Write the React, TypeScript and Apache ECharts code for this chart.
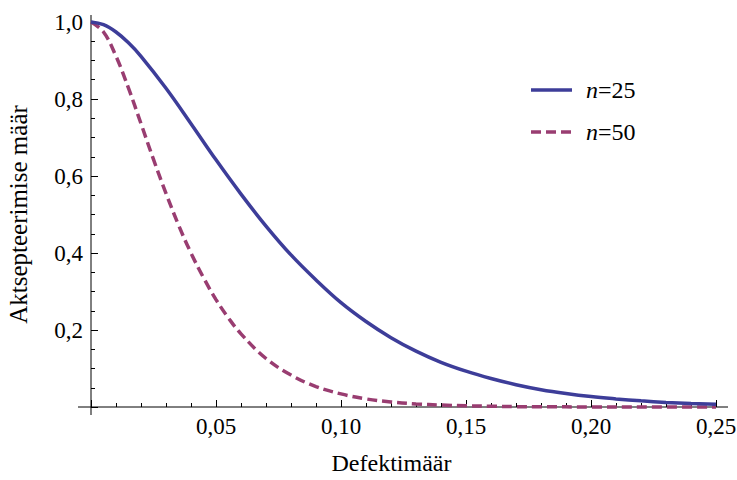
import React, { useEffect, useRef } from "react";
import * as echarts from "echarts";

const seriesNames = ["n=25", "n=50"];

const defect25 = [0, 0.005, 0.01, 0.015, 0.02, 0.03, 0.04, 0.05, 0.06, 0.07, 0.08, 0.09, 0.10, 0.11, 0.12, 0.13, 0.14, 0.15, 0.16, 0.17, 0.18, 0.19, 0.20, 0.21, 0.22, 0.23, 0.24, 0.25];
const accept25 = [1.0, 0.993, 0.974, 0.946, 0.911, 0.828, 0.736, 0.642, 0.553, 0.470, 0.395, 0.330, 0.271, 0.222, 0.180, 0.145, 0.116, 0.093, 0.074, 0.058, 0.045, 0.035, 0.027, 0.021, 0.016, 0.012, 0.009, 0.007];

const defect50 = [0, 0.005, 0.01, 0.015, 0.02, 0.025, 0.03, 0.035, 0.04, 0.045, 0.05, 0.055, 0.06, 0.07, 0.08, 0.09, 0.10, 0.11, 0.12, 0.13, 0.14, 0.15, 0.16, 0.17, 0.18, 0.20, 0.22, 0.25];
const accept50 = [1.0, 0.974, 0.911, 0.828, 0.736, 0.643, 0.555, 0.473, 0.400, 0.336, 0.279, 0.231, 0.190, 0.126, 0.083, 0.053, 0.034, 0.021, 0.013, 0.008, 0.005, 0.003, 0.002, 0.001, 0.0006, 0.0002, 0.0001, 0.0];

const xTickLabels = ["0,05", "0,10", "0,15", "0,20", "0,25"];
const yTickLabels = ["0,2", "0,4", "0,6", "0,8", "1,0"];

const xTitle = "Defektimäär";
const yTitle = "Aktsepteerimise määr";

const FONT = "Times New Roman, Liberation Serif, DejaVu Serif, serif";
const BLUE = "#3d3d99";
const PURPLE = "#993d71";
const DASH = [10, 5];

export default function App() {
  const ref = useRef<HTMLDivElement>(null);
  useEffect(() => {
    if (!ref.current) return;
    const chart = echarts.init(ref.current, undefined, { renderer: "svg" });
    const xLabel = (v: number) => {
      const i = Math.round(v / 0.05) - 1;
      return i >= 0 && i < xTickLabels.length ? xTickLabels[i] : "";
    };
    const yLabel = (v: number) => {
      const i = Math.round(v / 0.2) - 1;
      return i >= 0 && i < yTickLabels.length ? yTickLabels[i] : "";
    };
    const colors = [BLUE, PURPLE];
    const legendGraphics: any[] = [];
    seriesNames.forEach((name, k) => {
      const cy = 90 + k * 42;
      legendGraphics.push({
        type: "line",
        shape: { x1: 531, y1: cy, x2: 572, y2: cy },
        style: { stroke: colors[k], lineWidth: 3.5, lineDash: k === 1 ? DASH : null },
        z: 10,
      });
      legendGraphics.push({
        type: "text",
        x: 586,
        y: cy,
        style: {
          text: `{i|n}{r|${name.slice(1)}}`,
          verticalAlign: "middle",
          rich: {
            i: { fontFamily: FONT, fontStyle: "italic", fontSize: 24, fill: "#000" },
            r: { fontFamily: FONT, fontSize: 24, fill: "#000" },
          },
        },
        z: 10,
      });
    });
    chart.setOption({
      animation: false,
      backgroundColor: "#ffffff",
      textStyle: { fontFamily: FONT },
      grid: { left: 91, right: 21, top: 22, bottom: 73, outerBoundsMode: "none", containLabel: false },
      xAxis: {
        type: "value",
        min: 0,
        max: 0.25,
        interval: 0.05,
        name: xTitle,
        nameLocation: "middle",
        nameGap: 44,
        nameTextStyle: { fontFamily: FONT, fontSize: 24, color: "#000", padding: [0, 24, 0, 0] },
        axisLine: { show: false },
        axisTick: { show: true, inside: true, length: 7, lineStyle: { color: "#000", width: 1 } },
        minorTick: { show: true, splitNumber: 5, length: 4, lineStyle: { color: "#000", width: 1 } },
        splitLine: { show: false },
        axisLabel: { formatter: xLabel, fontFamily: FONT, fontSize: 23, color: "#000", margin: 8 },
      },
      yAxis: {
        type: "value",
        min: 0,
        max: 1,
        interval: 0.2,
        name: yTitle,
        nameLocation: "middle",
        nameGap: 60,
        nameTextStyle: { fontFamily: FONT, fontSize: 25, color: "#000" },
        axisLine: { show: false },
        axisTick: { show: true, inside: true, length: 7, lineStyle: { color: "#000", width: 1 } },
        minorTick: { show: true, splitNumber: 4, length: 4, lineStyle: { color: "#000", width: 1 } },
        splitLine: { show: false },
        axisLabel: { formatter: yLabel, fontFamily: FONT, fontSize: 23, color: "#000", margin: 8 },
      },
      series: [
        {
          name: seriesNames[0],
          type: "line",
          smooth: 0.4,
          symbol: "none",
          clip: false,
          color: BLUE,
          lineStyle: { color: BLUE, width: 3.5 },
          data: defect25.map((x, i) => [x, accept25[i]]),
          z: 3,
        },
        {
          name: seriesNames[1],
          type: "line",
          smooth: 0.4,
          symbol: "none",
          clip: false,
          color: PURPLE,
          lineStyle: { color: PURPLE, width: 3.5, type: DASH, cap: "butt" },
          data: defect50.map((x, i) => [x, accept50[i]]),
          z: 2,
        },
      ],
    });
    const o = chart.convertToPixel({ gridIndex: 0 }, [0, 0]) as number[];
    const tr = chart.convertToPixel({ gridIndex: 0 }, [0.25, 1]) as number[];
    chart.setOption({
      graphic: [
        {
          type: "line",
          shape: { x1: o[0] - 13, y1: o[1], x2: tr[0] + 12, y2: o[1] },
          style: { stroke: "#000", lineWidth: 1 },
          z: 1,
        },
        {
          type: "line",
          shape: { x1: o[0], y1: o[1] + 8, x2: o[0], y2: tr[1] - 7 },
          style: { stroke: "#000", lineWidth: 1 },
          z: 1,
        },
        ...legendGraphics,
      ],
    });
    return () => chart.dispose();
  }, []);
  return (
    <div
      ref={ref}
      style={{ position: "absolute", left: 0, top: 0, width: 737, height: 480 }}
    />
  );
}
